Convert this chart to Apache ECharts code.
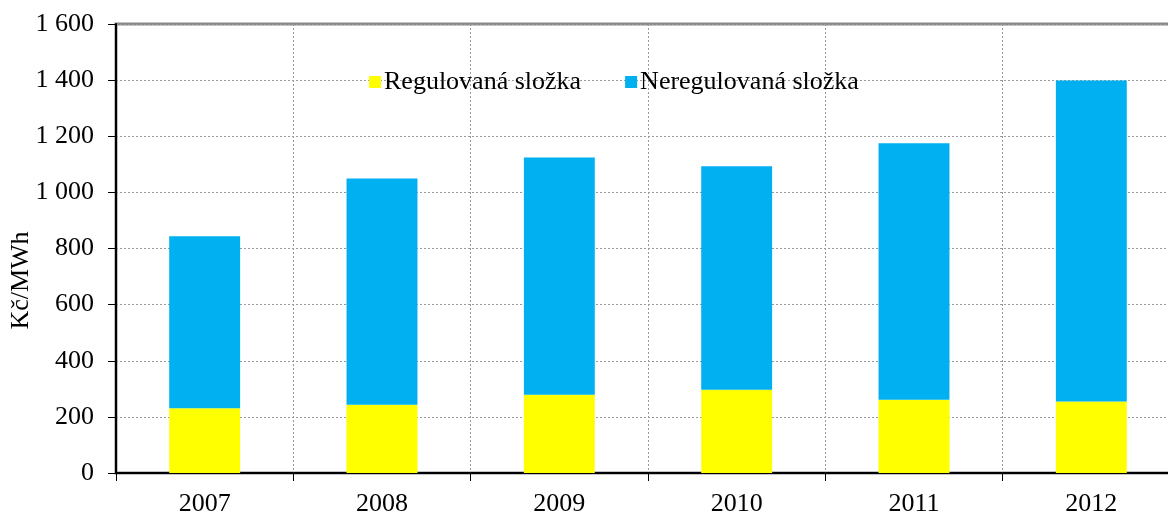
<!DOCTYPE html>
<html>
<head>
<meta charset="utf-8">
<script src="https://cdn.jsdelivr.net/npm/echarts@6/dist/echarts.min.js"></script>
<style>
  html, body { margin: 0; padding: 0; background: #fff; }
  #chart { width: 1168px; height: 515px; }
</style>
</head>
<body>
<div id="chart"></div>
<script>
const years = ["2007", "2008", "2009", "2010", "2011", "2012"];
const regulovana = [231, 243, 279, 297, 261, 255];
const neregulovana = [613, 806, 845, 796, 914, 1144];
const yTicks = [0, 200, 400, 600, 800, 1000, 1200, 1400, 1600];

const font = "Liberation Serif";

function fmt(v) {
  return String(v).replace(/\B(?=(\d{3})+(?!\d))/g, " ");
}

const chart = echarts.init(document.getElementById("chart"));
chart.setOption({
  animation: false,
  textStyle: { fontFamily: font },
  grid: {
    left: 116, top: 24, width: 1064, bottom: 42,
    outerBoundsMode: "none",
    containLabel: false,
    show: true, borderColor: "#888", borderWidth: 3, backgroundColor: "transparent"
  },
  legend: {
    left: 364, top: 64,
    icon: "rect", itemWidth: 12, itemHeight: 12, itemGap: 44,
    textStyle: { fontFamily: font, fontSize: 26, color: "#000", padding: [0, 0, 0, -2] },
    data: ["Regulovaná složka", "Neregulovaná složka"]
  },
  xAxis: {
    type: "category",
    data: years,
    axisLine: { lineStyle: { color: "#000", width: 2 } },
    axisTick: { show: true, length: 8, lineStyle: { color: "#000" } },
    axisLabel: { fontFamily: font, fontSize: 26, color: "#000", margin: 18 },
    splitLine: { show: true, lineStyle: { color: "#999", type: [2, 2], width: 1 } }
  },
  yAxis: {
    type: "value",
    min: yTicks[0], max: yTicks[yTicks.length - 1], interval: 200,
    name: "Kč/MWh",
    nameLocation: "middle",
    nameGap: 82,
    nameMoveOverlap: false,
    nameTextStyle: { fontFamily: font, fontSize: 26, color: "#000", padding: [0, 64, 0, 0] },
    axisLine: { show: true, lineStyle: { color: "#000", width: 2 } },
    axisTick: { show: true, length: 8, lineStyle: { color: "#000" } },
    axisLabel: { fontFamily: font, fontSize: 26, color: "#000", margin: 22, formatter: fmt },
    splitLine: { show: true, lineStyle: { color: "#999", type: [2, 2], width: 1 } }
  },
  series: [
    {
      name: "Regulovaná složka", type: "bar", stack: "a",
      data: regulovana, barWidth: "40%",
      itemStyle: { color: "#FFFF00" }
    },
    {
      name: "Neregulovaná složka", type: "bar", stack: "a",
      data: neregulovana, barWidth: "40%",
      itemStyle: { color: "#00B0F0" }
    }
  ]
});
</script>
</body>
</html>
